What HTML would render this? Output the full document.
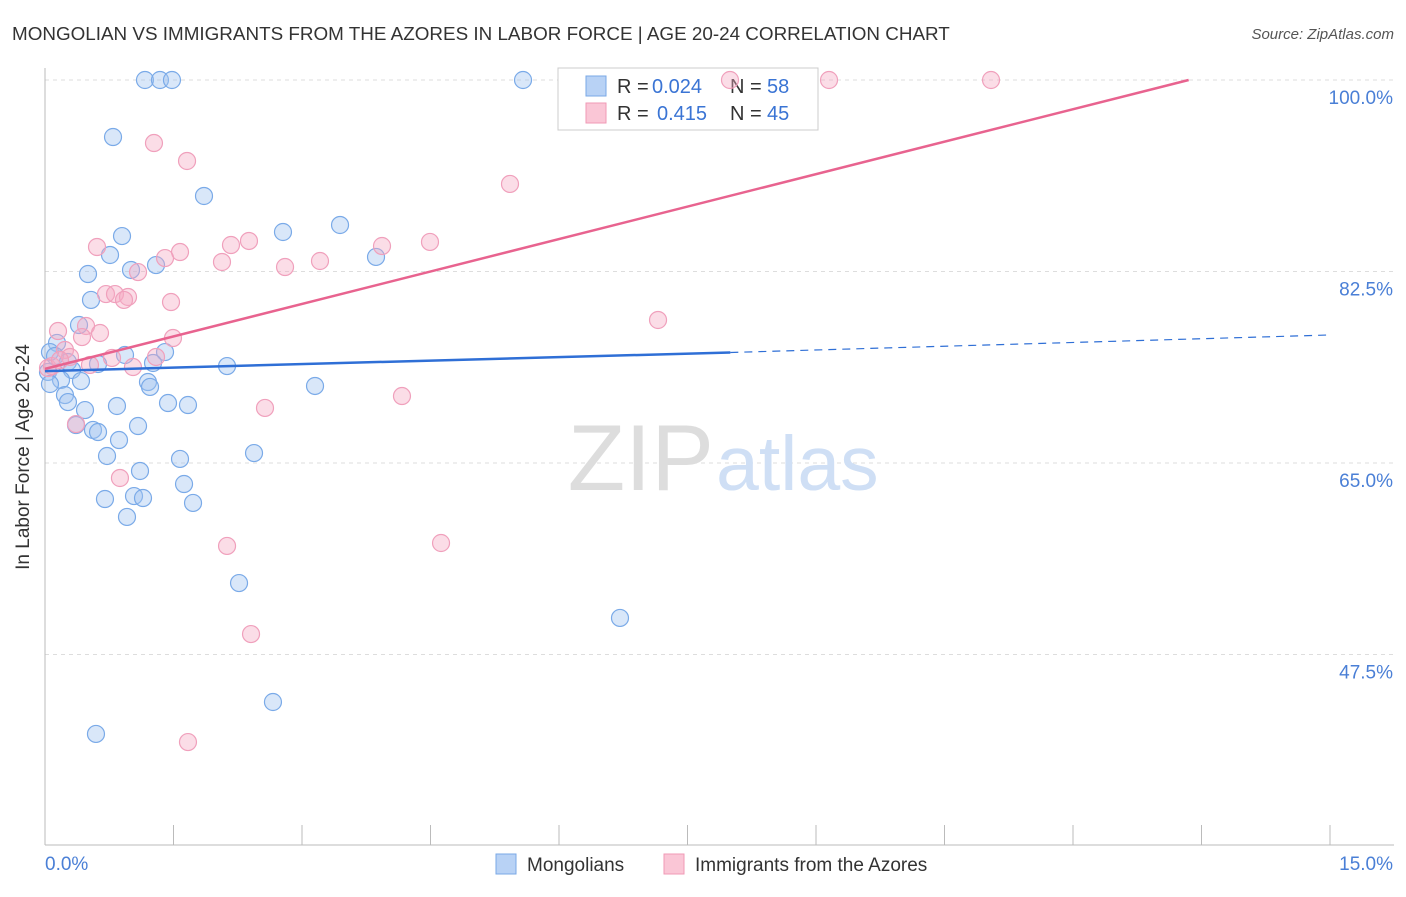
<!DOCTYPE html>
<html><head><meta charset="utf-8"><style>
body{margin:0;background:#fff;font-family:"Liberation Sans",sans-serif;}
svg text{font-family:"Liberation Sans",sans-serif;}
</style></head><body>
<svg width="1406" height="892" xmlns="http://www.w3.org/2000/svg">
<text x="12" y="40" font-size="18.85" fill="#333">MONGOLIAN VS IMMIGRANTS FROM THE AZORES IN LABOR FORCE | AGE 20-24 CORRELATION CHART</text>
<text x="1394" y="39" font-size="15" fill="#555" font-style="italic" text-anchor="end">Source: ZipAtlas.com</text>
<g id="grid"></g>
<line x1="45" y1="68" x2="45" y2="845" stroke="#bbb"/>
<line x1="45" y1="845" x2="1394" y2="845" stroke="#bbb"/>
<text x="29" y="457" font-size="19" fill="#333" text-anchor="middle" transform="rotate(-90 29 457)">In Labor Force | Age 20-24</text>
<text x="45" y="870" font-size="19" fill="#4a7fd6">0.0%</text>
<text x="1393" y="870" font-size="19" fill="#4a7fd6" text-anchor="end">15.0%</text>
<text x="714" y="490" font-size="94" fill="#ddd" text-anchor="end" font-family="Liberation Serif">ZIP</text>
<text x="716" y="490" font-size="77" fill="#cfdff5">atlas</text>
<g>
<rect x="558" y="68" width="260" height="62" fill="#fff" stroke="#ccc"/>
<rect x="586" y="76" width="20" height="20" fill="#b8d2f5" stroke="#7aa8e6"/>
<rect x="586" y="103" width="20" height="20" fill="#fac6d6" stroke="#f09ab6"/>
<text x="617" y="93" font-size="20" fill="#333">R =</text>
<text x="652" y="93" font-size="20" fill="#3a74d4">0.024</text>
<text x="730" y="93" font-size="20" fill="#333">N =</text>
<text x="767" y="93" font-size="20" fill="#3a74d4">58</text>
<text x="617" y="120" font-size="20" fill="#333">R =</text>
<text x="657" y="120" font-size="20" fill="#3a74d4">0.415</text>
<text x="730" y="120" font-size="20" fill="#333">N =</text>
<text x="767" y="120" font-size="20" fill="#3a74d4">45</text>
</g>
<g id="pts"></g>
<g id="lines"></g>
<g>
<rect x="496" y="854" width="20" height="20" fill="#b8d2f5" stroke="#7aa8e6"/>
<text x="527" y="871" font-size="19" fill="#333">Mongolians</text>
<rect x="664" y="854" width="20" height="20" fill="#fac6d6" stroke="#f09ab6"/>
<text x="695" y="871" font-size="19" fill="#333">Immigrants from the Azores</text>
</g>
</svg>
<script>
const yTicks=[100,82.5,65,47.5];
const xTickVals=[0,1.5,3,4.5,6,7.5,9,10.5,12,13.5,15];
const bluePx=[[145,80],[160,80],[172,80],[523,80],[113,137],[204,196],[122,236],[283,232],[340,225],[110,255],[376,257],[88,274],[131,270],[156,265],[91,300],[79,325],[57,343],[50,352],[55,356],[125,355],[165,352],[98,364],[68,362],[227,366],[153,363],[72,370],[48,372],[61,380],[81,381],[148,382],[150,387],[315,386],[50,384],[65,395],[68,402],[85,410],[117,406],[168,403],[188,405],[76,425],[138,426],[93,430],[98,432],[119,440],[254,453],[107,456],[180,459],[140,471],[184,484],[105,499],[134,496],[143,498],[193,503],[127,517],[239,583],[620,618],[273,702],[96,734]];
const pinkPx=[[730,80],[829,80],[991,80],[154,143],[187,161],[510,184],[97,247],[231,245],[249,241],[180,252],[165,258],[222,262],[285,267],[320,261],[382,246],[430,242],[138,272],[106,294],[115,294],[128,297],[124,300],[171,302],[58,331],[86,326],[100,333],[82,337],[173,338],[658,320],[65,350],[70,357],[156,357],[112,358],[48,368],[90,365],[133,367],[265,408],[402,396],[76,424],[120,478],[227,546],[441,543],[251,634],[188,742],[52,366],[60,360]];
const blueX=bluePx.map(p=>+((p[0]-45)/1285*15).toFixed(3));
const blueY=bluePx.map(p=>+(100-(p[1]-80)/10.943).toFixed(2));
const pinkX=pinkPx.map(p=>+((p[0]-45)/1285*15).toFixed(3));
const pinkY=pinkPx.map(p=>+(100-(p[1]-80)/10.943).toFixed(2));
const blueLine=[[0,73.4],[8,75.1],[15,76.7]];
const pinkLine=[[0,73.6],[13.35,100]];
function sx(v){return 45+v/15*1285;}
function sy(v){return 80+(100-v)*10.943;}
const NS="http://www.w3.org/2000/svg";
const grid=document.getElementById('grid');
yTicks.forEach(t=>{
 const l=document.createElementNS(NS,'line');
 l.setAttribute('x1',45);l.setAttribute('x2',1394);l.setAttribute('y1',sy(t));l.setAttribute('y2',sy(t));
 l.setAttribute('stroke','#ddd');l.setAttribute('stroke-dasharray','4,4');
 
 
 grid.appendChild(l);
 const tx=document.createElementNS(NS,'text');
 tx.setAttribute('x',1393);tx.setAttribute('y',sy(t)+24);tx.setAttribute('text-anchor','end');
 tx.setAttribute('font-size','19');tx.setAttribute('fill','#4a7fd6');tx.textContent=t.toFixed(1)+'%';
 
 
 grid.appendChild(tx);
});
xTickVals.forEach(t=>{
 const l=document.createElementNS(NS,'line');
 l.setAttribute('x1',sx(t));l.setAttribute('x2',sx(t));l.setAttribute('y1',825);l.setAttribute('y2',845);
 l.setAttribute('stroke','#bbb');
 
 
 grid.appendChild(l);
});
const pts=document.getElementById('pts');
function dots(X,Y,fill,stroke,name){
 X.forEach((x,i)=>{
  const c=document.createElementNS(NS,'circle');
  c.setAttribute('cx',sx(x));c.setAttribute('cy',sy(Y[i]));c.setAttribute('r',8.5);
  c.setAttribute('fill',fill);c.setAttribute('stroke',stroke);c.setAttribute('stroke-width','1.2');
  
  
  pts.appendChild(c);
 });
}
dots(blueX,blueY,'rgba(160,196,240,0.4)','#7aaae8','mongolian-point');
dots(pinkX,pinkY,'rgba(246,170,196,0.4)','#f0a0bc','azores-point');
const lines=document.getElementById('lines');
function seg(a,b,color,dash,name){
 const l=document.createElementNS(NS,'line');
 l.setAttribute('x1',sx(a[0]));l.setAttribute('y1',sy(a[1]));l.setAttribute('x2',sx(b[0]));l.setAttribute('y2',sy(b[1]));
 l.setAttribute('stroke',color);l.setAttribute('stroke-width',dash?1.2:2.5);
 if(dash)l.setAttribute('stroke-dasharray','8,6');
 
 
 lines.appendChild(l);
}
seg(blueLine[0],blueLine[1],'#2f6fd6',false,'mongolian-trend-line');
seg(blueLine[1],blueLine[2],'#2f6fd6',true,'mongolian-trend-extension');
seg(pinkLine[0],pinkLine[1],'#e8638f',false,'azores-trend-line');
</script>
</body></html>
